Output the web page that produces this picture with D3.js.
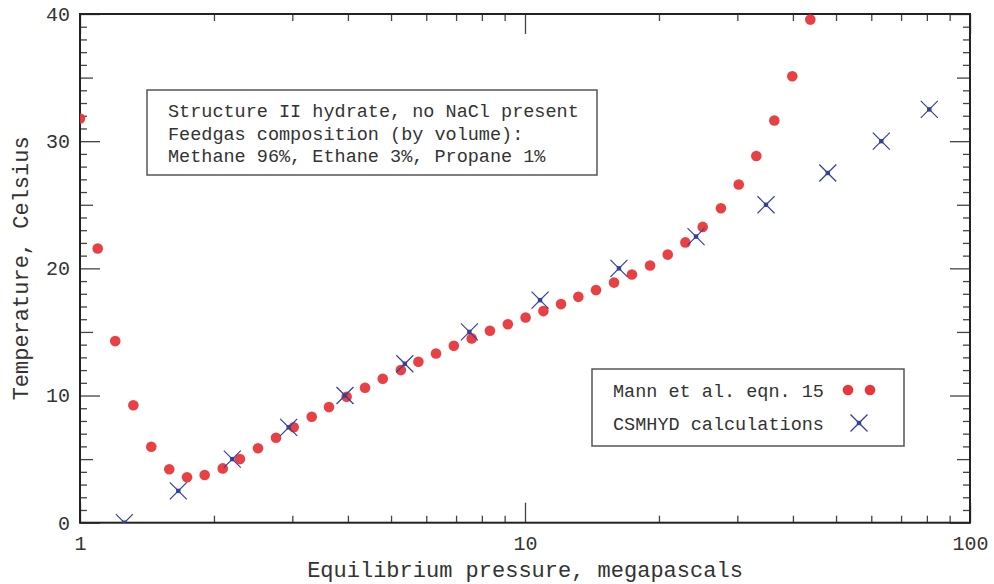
<!DOCTYPE html>
<html>
<head>
<meta charset="utf-8">
<script src="https://cdn.jsdelivr.net/npm/d3@7"></script>
<style>
  html, body { margin: 0; padding: 0; background: #fff; }
  svg { display: block; }
  text { font-family: "Liberation Mono", "DejaVu Sans Mono", monospace; fill: #333; }
</style>
</head>
<body>
<svg id="chart" width="994" height="584"></svg>
<script>
// Mann et al. eqn. 15 — equilibrium pressure (MPa) and temperature (°C)
const mannPressure = [1.00, 1.096, 1.20, 1.318, 1.446, 1.587, 1.74, 1.906, 2.093, 2.288,
  2.512, 2.757, 3.022, 3.317, 3.627, 3.974, 4.37, 4.79, 5.26, 5.76,
  6.31, 6.92, 7.59, 8.34, 9.15, 10.03, 11.0, 12.05, 13.18, 14.44,
  15.85, 17.39, 19.1, 20.93, 22.93, 25.08, 27.56, 30.22, 33.1, 36.33,
  39.87, 43.77];
const mannTemp = [31.78, 21.56, 14.28, 9.23, 5.97, 4.2, 3.57, 3.75, 4.27, 5.0,
  5.85, 6.68, 7.5, 8.33, 9.09, 9.9, 10.61, 11.32, 12.0, 12.65,
  13.31, 13.91, 14.49, 15.09, 15.61, 16.14, 16.64, 17.19, 17.76, 18.29,
  18.88, 19.52, 20.23, 21.08, 22.04, 23.26, 24.73, 26.59, 28.84, 31.62,
  35.1, 39.56];

// CSMHYD calculations
const csmPressure = [1.258, 1.663, 2.199, 2.944, 3.94, 5.37, 7.50, 10.81, 16.26, 24.23, 34.8, 47.9, 63.2, 81.0];
const csmTemp = [0, 2.5, 5, 7.5, 10, 12.5, 15, 17.5, 20, 22.5, 25, 27.5, 30, 32.5];

// Axis ticks
const xLabelTicks = [1, 10, 100];
const xMinorTicks = [2, 3, 4, 5, 6, 7, 8, 9, 20, 30, 40, 50, 60, 70, 80, 90];
const yLabelTicks = [0, 10, 20, 30, 40];
const yMidTicks = [5, 15, 25, 35];
const yMinorTicks = [1,2,3,4,6,7,8,9,11,12,13,14,16,17,18,19,21,22,23,24,26,27,28,29,31,32,33,34,36,37,38,39];

const infoLines = [
  "Structure II hydrate, no NaCl present",
  "Feedgas composition (by volume):",
  "Methane 96%, Ethane 3%, Propane 1%"
];
const legendLabels = ["Mann et al. eqn. 15", "CSMHYD calculations"];

const svg = d3.select("#chart");
const plotL = 80, plotR = 970, plotT = 14, plotB = 522.7;

const x = d3.scaleLog().domain([1, 100]).range([plotL, plotR]);
const y = d3.scaleLinear().domain([0, 40]).range([plotB, plotT]);

const red = "#e8363a", blue = "#34409a", ink = "#444";

// clip marks to the plotting frame
svg.append("defs").append("clipPath").attr("id", "plotClip")
  .append("rect").attr("x", plotL).attr("y", plotT).attr("width", plotR - plotL).attr("height", plotB - plotT);

// inward ticks on all four sides
function tickAxis(axisFn, scale, values, size, transform) {
  const g = svg.append("g").attr("transform", transform)
    .call(axisFn(scale).tickValues(values).tickSize(size).tickFormat(""));
  g.select(".domain").remove();
  g.selectAll(".tick line").attr("stroke", "#444").attr("stroke-width", 1.3);
  return g;
}
// left / right
tickAxis(d3.axisLeft, y, yLabelTicks, -20, `translate(${plotL},0)`);
tickAxis(d3.axisLeft, y, yMidTicks, -13, `translate(${plotL},0)`);
tickAxis(d3.axisLeft, y, yMinorTicks, -7, `translate(${plotL},0)`);
tickAxis(d3.axisRight, y, yLabelTicks, -20, `translate(${plotR},0)`);
tickAxis(d3.axisRight, y, yMidTicks, -13, `translate(${plotR},0)`);
tickAxis(d3.axisRight, y, yMinorTicks, -7, `translate(${plotR},0)`);
// bottom / top
tickAxis(d3.axisBottom, x, xLabelTicks, -20, `translate(0,${plotB})`);
tickAxis(d3.axisBottom, x, xMinorTicks, -7, `translate(0,${plotB})`);
tickAxis(d3.axisTop, x, xLabelTicks, -20, `translate(0,${plotT})`);
tickAxis(d3.axisTop, x, xMinorTicks, -7, `translate(0,${plotT})`);

// tick labels
const yLab = svg.append("g").attr("transform", `translate(${plotL},0)`)
  .call(d3.axisLeft(y).tickValues(yLabelTicks).tickSize(0).tickPadding(10).tickFormat(d3.format("d")));
yLab.select(".domain").remove();
yLab.selectAll("text").attr("font-size", 20).attr("font-family", "Liberation Mono").attr("fill", ink);

const xLab = svg.append("g").attr("transform", `translate(0,${plotB})`)
  .call(d3.axisBottom(x).tickValues(xLabelTicks).tickSize(0).tickPadding(13).tickFormat(d3.format("d")));
xLab.select(".domain").remove();
xLab.selectAll("text").attr("font-size", 20).attr("font-family", "Liberation Mono").attr("fill", ink);

// frame
svg.append("rect").attr("x", plotL).attr("y", plotT).attr("width", plotR - plotL).attr("height", plotB - plotT)
  .attr("fill", "none").attr("stroke", "#222").attr("stroke-width", 2);

// axis titles
svg.append("text").attr("x", (plotL + plotR) / 2).attr("y", 577)
  .attr("text-anchor", "middle").attr("font-size", 22).attr("fill", ink)
  .text("Equilibrium pressure, megapascals");
svg.append("text").attr("transform", `translate(28,${(plotT + plotB) / 2}) rotate(-90)`)
  .attr("text-anchor", "middle").attr("font-size", 22).attr("fill", ink)
  .text("Temperature, Celsius");

// cross marker with a small filled centre
function drawCross(g, cx, cy) {
  const s = 8.5;
  g.append("line").attr("x1", cx - s).attr("y1", cy - s).attr("x2", cx + s).attr("y2", cy + s);
  g.append("line").attr("x1", cx - s).attr("y1", cy + s).attr("x2", cx + s).attr("y2", cy - s);
  g.append("rect").attr("x", cx - 2.2).attr("y", cy - 2.2).attr("width", 4.4).attr("height", 4.4)
    .attr("fill", blue).attr("stroke", "none");
}

const plot = svg.append("g").attr("clip-path", "url(#plotClip)");

// Mann et al. dots
plot.append("g").selectAll("circle")
  .data(d3.zip(mannPressure, mannTemp))
  .join("circle")
  .attr("cx", d => x(d[0])).attr("cy", d => y(d[1])).attr("r", 5.3)
  .attr("fill", red).attr("opacity", 0.95);

// CSMHYD crosses
const crossG = plot.append("g").attr("stroke", blue).attr("stroke-width", 1.2);
d3.zip(csmPressure, csmTemp).forEach(d => drawCross(crossG, x(d[0]), y(d[1])));

// info box
svg.append("rect").attr("x", 147).attr("y", 90).attr("width", 450).attr("height", 85)
  .attr("fill", "#fff").attr("stroke", "#555").attr("stroke-width", 1.5);
svg.append("g").selectAll("text").data(infoLines).join("text")
  .attr("x", 168).attr("y", (d, i) => 117 + i * 22.7)
  .attr("font-size", 18.5).attr("fill", ink)
  .text(d => d);

// legend
svg.append("rect").attr("x", 592).attr("y", 369).attr("width", 312).attr("height", 77)
  .attr("fill", "#fff").attr("stroke", "#555").attr("stroke-width", 1.5);
svg.append("g").selectAll("text").data(legendLabels).join("text")
  .attr("x", 613).attr("y", (d, i) => 396.5 + i * 33.5)
  .attr("font-size", 18.5).attr("fill", ink)
  .text(d => d);
svg.append("g").selectAll("circle").data([848, 870]).join("circle")
  .attr("cx", d => d).attr("cy", 390).attr("r", 5.3).attr("fill", red);
const legCross = svg.append("g").attr("stroke", blue).attr("stroke-width", 1.2);
drawCross(legCross, 859, 423);
</script>
</body>
</html>
